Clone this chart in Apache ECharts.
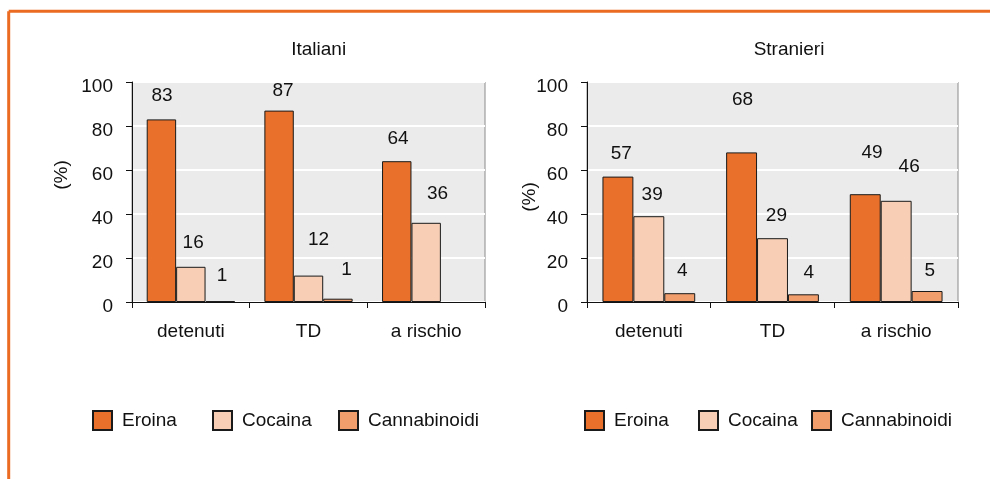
<!DOCTYPE html>
<html>
<head>
<meta charset="utf-8">
<script src="https://cdn.jsdelivr.net/npm/echarts@6/dist/echarts.min.js"></script>
<style>
html,body{margin:0;padding:0;background:#fff;}
#chart{width:990px;height:479px;}
</style>
</head>
<body>
<div id="chart"></div>
<script>
// ---- data ----
const categories = ['detenuti', 'TD', 'a rischio'];
const seriesNames = ['Eroina', 'Cocaina', 'Cannabinoidi'];
const yTicks = [0, 20, 40, 60, 80, 100];

const itEroina = [83, 87, 64];
const itCocaina = [16, 12, 36];
const itCannabinoidi = [0.3, 1.5, null];
const itCannabinoidiLabels = ['1', '1', ''];

const stEroina = [57, 68, 49];
const stCocaina = [39, 29, 46];
const stCannabinoidi = [4, 3.5, 5];
const stCannabinoidiLabels = ['4', '4', '5'];

// ---- styling ----
const colors = ['#E8702A', '#F8CFB5', '#F19D6C'];
const FONT = 'Liberation Sans, Arial, Helvetica, sans-serif';
const FS = 19;
const labelOffsets = {
  it: [
    [[0.7, -13.8], [4, -10.2], [1.3, -13.2]],
    [[2.3, -14.5], [10, -26.5], [11.3, -19.5]],
    [[1.7, -16], [8.7, -19.5], [0, 0]]
  ],
  st: [
    [[3.4, -13], [1, -43], [6.8, -31.8]],
    [[3.3, -11.5], [3.9, -12.5], [13, -24.9]],
    [[2.5, -12.5], [5.4, -12.5], [2.7, -10.8]]
  ]
};

const chart = echarts.init(document.getElementById('chart'), null, {renderer: 'canvas'});

function makeSeries(key, gridIdx, valueArrays, labelArrays) {
  return valueArrays.map((vals, si) => ({
    name: seriesNames[si],
    type: 'bar',
    xAxisIndex: gridIdx,
    yAxisIndex: gridIdx,
    barGap: '0%',
    barCategoryGap: '25%',
    itemStyle: {color: colors[si], borderColor: '#1a1a1a', borderWidth: 1},
    emphasis: {disabled: true},
    data: vals.map((v, i) => ({
      value: v,
      label: {
        show: v !== null,
        position: 'top',
        distance: 0,
        offset: labelOffsets[key][si][i],
        formatter: labelArrays && labelArrays[si] ? labelArrays[si][i] : String(v),
        fontFamily: FONT,
        fontSize: FS,
        color: '#111'
      }
    }))
  }));
}

function xAxis(gi) {
  return {
    type: 'category', gridIndex: gi, data: categories,
    axisLine: {show: true, lineStyle: {color: '#111', width: 1}},
    axisTick: {show: true, alignWithLabel: false, length: 6, lineStyle: {color: '#111'}},
    axisLabel: {fontFamily: FONT, fontSize: FS, color: '#111', margin: 20},
    splitLine: {show: false}
  };
}
function yAxis(gi) {
  return {
    type: 'value', gridIndex: gi, min: 0, max: 100, interval: 20,
    axisLine: {show: true, lineStyle: {color: '#111', width: 1}},
    axisTick: {show: true, length: 6, lineStyle: {color: '#111'}},
    axisLabel: {fontFamily: FONT, fontSize: FS, color: '#111', margin: 19,
      verticalAlign: 'top', lineHeight: 9,
      formatter: v => yTicks.includes(v) ? String(v) : ''},
    splitLine: {show: true, lineStyle: {color: '#ffffff', width: 2}}
  };
}

function legendItem(name, left) {
  return {
    data: [name], left: left, top: 410, padding: 0,
    icon: 'rect', itemWidth: 19, itemHeight: 19,
    selectedMode: false,
    textStyle: {fontFamily: FONT, fontSize: FS, color: '#111', padding: [0, 0, 0, 5]}
  };
}

const option = {
  animation: false,
  backgroundColor: '#ffffff',
  grid: [
    {left: 132, top: 82, width: 353, height: 220, show: true, backgroundColor: '#EAEBEA', borderColor: '#8a8a8a', borderWidth: 1},
    {left: 587, top: 82, width: 371, height: 220, show: true, backgroundColor: '#EAEBEA', borderColor: '#8a8a8a', borderWidth: 1}
  ],
  xAxis: [xAxis(0), xAxis(1)],
  yAxis: [yAxis(0), yAxis(1)],
  legend: [
    legendItem('Eroina', 92), legendItem('Cocaina', 212), legendItem('Cannabinoidi', 338),
    legendItem('Eroina', 584), legendItem('Cocaina', 698), legendItem('Cannabinoidi', 811)
  ],
  graphic: [
    {type: 'line', shape: {x1: 8.7, y1: 11.3, x2: 990, y2: 11.3}, style: {stroke: '#EB6B22', lineWidth: 3}, silent: true},
    {type: 'line', shape: {x1: 8.7, y1: 11.3, x2: 8.7, y2: 479}, style: {stroke: '#EB6B22', lineWidth: 3}, silent: true},
    {type: 'text', x: 318.7, y: 50, style: {text: 'Italiani', font: FS + 'px ' + FONT, fill: '#111', textAlign: 'center', textVerticalAlign: 'middle'}},
    {type: 'text', x: 789, y: 50, style: {text: 'Stranieri', font: FS + 'px ' + FONT, fill: '#111', textAlign: 'center', textVerticalAlign: 'middle'}},
    {type: 'text', x: 61.7, y: 175, rotation: Math.PI / 2, style: {text: '(%)', font: FS + 'px ' + FONT, fill: '#111', textAlign: 'center', textVerticalAlign: 'middle'}},
    {type: 'text', x: 530, y: 197, rotation: Math.PI / 2, style: {text: '(%)', font: FS + 'px ' + FONT, fill: '#111', textAlign: 'center', textVerticalAlign: 'middle'}}
  ],
  series: [].concat(
    makeSeries('it', 0, [itEroina, itCocaina, itCannabinoidi], [null, null, itCannabinoidiLabels]),
    makeSeries('st', 1, [stEroina, stCocaina, stCannabinoidi], [null, null, stCannabinoidiLabels])
  )
};
chart.setOption(option);
</script>
</body>
</html>
